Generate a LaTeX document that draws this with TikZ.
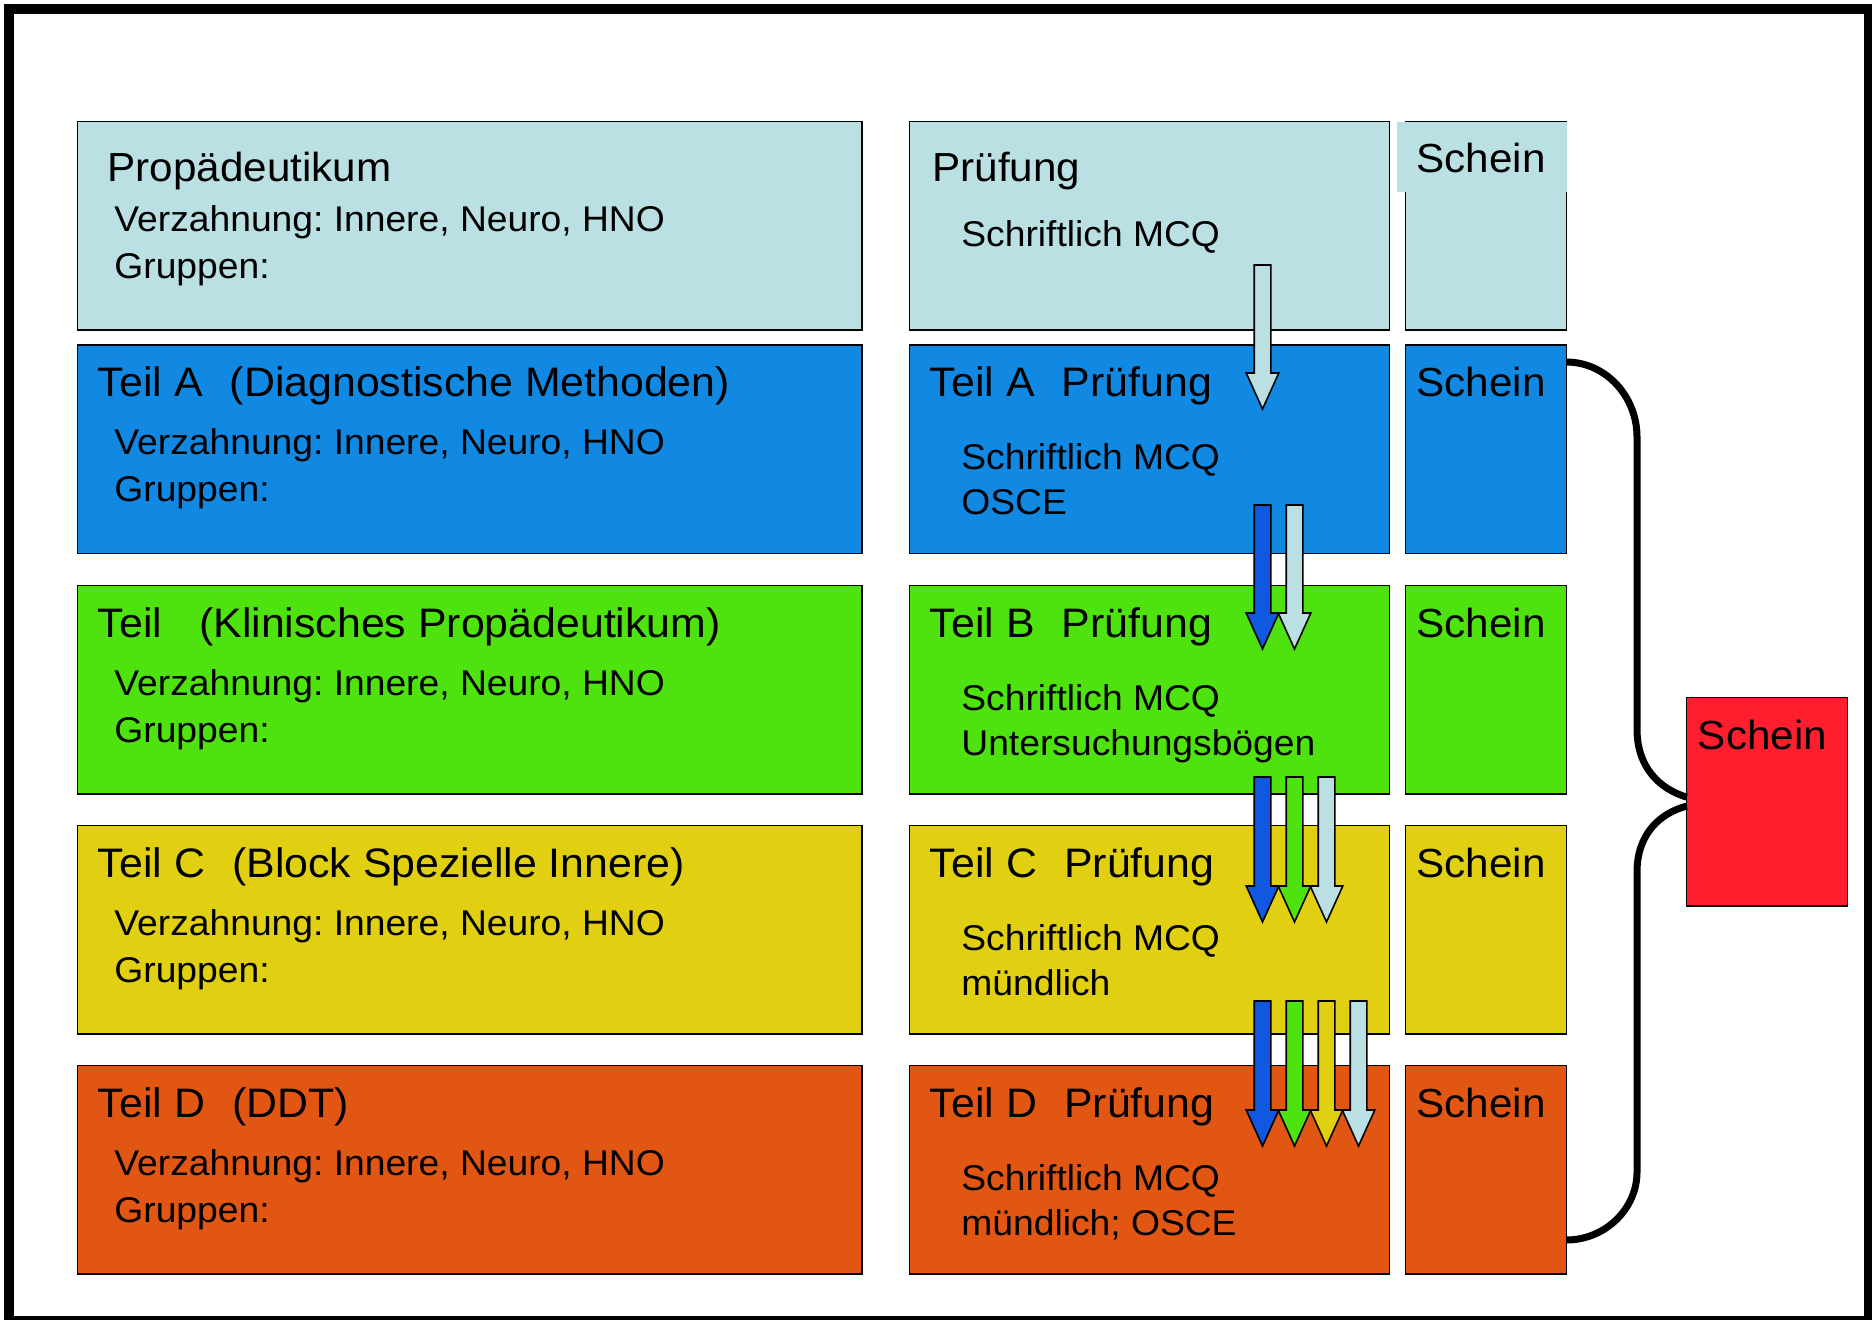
\documentclass[tikz,border=0pt]{standalone}
\usepackage{fontspec}
\setmainfont[FakeStretch=1.04]{Liberation Sans}
\usetikzlibrary{calc}
\frenchspacing
\definecolor{cProp}{RGB}{187,224,227}
\definecolor{cBlue}{RGB}{17,136,225}
\definecolor{cGreen}{RGB}{78,226,14}
\definecolor{cYellow}{RGB}{225,208,18}
\definecolor{cOrange}{RGB}{226,86,20}
\definecolor{cRed}{RGB}{255,30,46}
\definecolor{cDark}{RGB}{17,88,225}
\newcommand{\blockarr}[4]{%
  \draw[arrowline, fill=#4] (#1-8.3,#2) -- (#1+8.3,#2) -- (#1+8.3,#3) -- (#1+16.3,#3)
     -- (#1,#3+36) -- (#1-16.3,#3) -- (#1-8.3,#3) -- cycle;}
\newcommand{\gp}{\hspace{0.66em}}
\begin{document}
\begin{tikzpicture}[x=0.5pt,y=-0.5pt,
  box/.style={draw=black, line width=0.75pt, rectangle, inner sep=0pt, outer sep=0pt, anchor=north west},
  lbox/.style={box, minimum width=392.35pt, minimum height=104.25pt},
  mbox/.style={box, minimum width=240.2pt, minimum height=104.25pt},
  sbox/.style={box, minimum width=80.3pt, minimum height=104.25pt},
  ttl/.style={anchor=base west, inner sep=0pt, font=\fontsize{20.6pt}{24pt}\selectfont},
  sch/.style={anchor=base west, inner sep=0pt, font=\fontsize{20.3pt}{24pt}\selectfont},
  txt/.style={anchor=base west, inner sep=0pt, font=\fontsize{17.9pt}{21pt}\selectfont},
  arrowline/.style={draw=black, line width=0.8pt, line join=miter},
  brace/.style={draw=black, line width=3.5pt}]
\clip (0,0) rectangle (1872,1320);
\fill[white] (0,0) rectangle (1872,1320);
\draw[line width=5pt] (8.5,9.5) rectangle (1869,1321);

% ---- left column
\node[lbox, fill=cProp]   (L0) at (77.3,121.7) {};
\node[lbox, fill=cBlue]   (LA) at (77.3,345) {};
\node[lbox, fill=cGreen]  (LB) at (77.3,585.5) {};
\node[lbox, fill=cYellow] (LC) at (77.3,825.5) {};
\node[lbox, fill=cOrange] (LD) at (77.3,1065.5) {};

\node[sch] (L0t) at ($(L0.north west)+(29.7,60)$) {Propädeutikum};
\node[txt] (L0v) at ($(L0.north west)+(36.7,110)$) {Verzahnung: Innere, Neuro, HNO};
\node[txt] (L0g) at ($(L0.north west)+(36.7,157)$) {Gruppen:};

\node[ttl] (LAt) at ($(LA.north west)+(20.2,51.7)$) {Teil A\gp(Diagnostische Methoden)};
\node[txt] (LAv) at ($(LA.north west)+(36.7,110)$) {Verzahnung: Innere, Neuro, HNO};
\node[txt] (LAg) at ($(LA.north west)+(36.7,157)$) {Gruppen:};

\node[ttl] (LBt) at ($(LB.north west)+(20.2,51.7)$) {Teil\hspace{0.9em}(Klinisches Propädeutikum)};
\node[txt] (LBv) at ($(LB.north west)+(36.7,110)$) {Verzahnung: Innere, Neuro, HNO};
\node[txt] (LBg) at ($(LB.north west)+(36.7,157)$) {Gruppen:};

\node[ttl] (LCt) at ($(LC.north west)+(20.2,51.7)$) {Teil C\gp(Block Spezielle Innere)};
\node[txt] (LCv) at ($(LC.north west)+(36.7,110)$) {Verzahnung: Innere, Neuro, HNO};
\node[txt] (LCg) at ($(LC.north west)+(36.7,157)$) {Gruppen:};

\node[ttl] (LDt) at ($(LD.north west)+(20.2,51.7)$) {Teil D\gp(DDT)};
\node[txt] (LDv) at ($(LD.north west)+(36.7,110)$) {Verzahnung: Innere, Neuro, HNO};
\node[txt] (LDg) at ($(LD.north west)+(36.7,157)$) {Gruppen:};

% ---- middle column
\node[mbox, fill=cProp]   (M0) at (909.3,121.7) {};
\node[mbox, fill=cBlue]   (MA) at (909.3,345) {};
\node[mbox, fill=cGreen]  (MB) at (909.3,585.5) {};
\node[mbox, fill=cYellow] (MC) at (909.3,825.5) {};
\node[mbox, fill=cOrange] (MD) at (909.3,1065.5) {};

\node[sch] (M0t) at ($(M0.north west)+(22.7,60)$) {Prüfung};
\node[txt] (M0a) at ($(M0.north west)+(51.7,125)$) {Schriftlich MCQ};

\node[ttl] (MAt) at ($(MA.north west)+(20.2,51.7)$) {Teil A\gp Prüfung};
\node[txt] (MAa) at ($(MA.north west)+(51.7,125)$) {Schriftlich MCQ};
\node[txt] (MAb) at ($(MA.north west)+(51.7,170)$) {OSCE};

\node[ttl] (MBt) at ($(MB.north west)+(20.2,51.7)$) {Teil B\gp Prüfung};
\node[txt] (MBa) at ($(MB.north west)+(51.7,125)$) {Schriftlich MCQ};
\node[txt] (MBb) at ($(MB.north west)+(51.7,170)$) {Untersuchungsbögen};

\node[ttl] (MCt) at ($(MC.north west)+(20.2,51.7)$) {Teil C\gp Prüfung};
\node[txt] (MCa) at ($(MC.north west)+(51.7,125)$) {Schriftlich MCQ};
\node[txt] (MCb) at ($(MC.north west)+(51.7,170)$) {mündlich};

\node[ttl] (MDt) at ($(MD.north west)+(20.2,51.7)$) {Teil D\gp Prüfung};
\node[txt] (MDa) at ($(MD.north west)+(51.7,125)$) {Schriftlich MCQ};
\node[txt] (MDb) at ($(MD.north west)+(51.7,170)$) {mündlich; OSCE};

% ---- Schein column
\node[sbox, fill=cProp]   (S0) at (1405.7,121.7) {};
\node[sbox, fill=cBlue]   (SA) at (1405.7,345) {};
\node[sbox, fill=cGreen]  (SB) at (1405.7,585.5) {};
\node[sbox, fill=cYellow] (SC) at (1405.7,825.5) {};
\node[sbox, fill=cOrange] (SD) at (1405.7,1065.5) {};
\node[fill=cProp, inner sep=0pt, outer sep=0pt, anchor=north west,
      minimum width=85.3pt, minimum height=35pt] (S0lab) at (1396.7,121.9) {};

\node[sch] (S0t) at ($(S0.north west)+(10.3,51)$) {Schein};
\node[sch] (SAt) at ($(SA.north west)+(10.3,51.7)$) {Schein};
\node[sch] (SBt) at ($(SB.north west)+(10.3,51.7)$) {Schein};
\node[sch] (SCt) at ($(SC.north west)+(10.3,51.7)$) {Schein};
\node[sch] (SDt) at ($(SD.north west)+(10.3,51.7)$) {Schein};

% ---- final Schein
\node[box, fill=cRed, minimum width=80.3pt, minimum height=104.35pt] (R) at (1686.7,697.3) {};
\node[sch] (Rt) at ($(R.north west)+(10.8,51.7)$) {Schein};

% ---- arrows
\blockarr{1262.5}{265}{373}{cProp}
\blockarr{1262.5}{505}{613}{cDark}
\blockarr{1294.5}{505}{613}{cProp}
\blockarr{1262.5}{777}{886}{cDark}
\blockarr{1294.5}{777}{886}{cGreen}
\blockarr{1326.5}{777}{886}{cProp}
\blockarr{1262.5}{1001}{1110}{cDark}
\blockarr{1294.5}{1001}{1110}{cGreen}
\blockarr{1326.5}{1001}{1110}{cYellow}
\blockarr{1358.5}{1001}{1110}{cProp}

% ---- brace
\coordinate (b1) at ($(SA.north east)+(0,17)$);
\coordinate (b2) at ($(R.west)+(0,-4.5)$);
\coordinate (b3) at ($(R.west)+(0,4.5)$);
\coordinate (b4) at ($(SD.north east)+(0,174.5)$);
\draw[brace] (b1) .. controls +(39,0) and (1637,396) .. (1637,437) -- (1637,729)
   .. controls (1637,768) and (1660,789) .. (b2);
\draw[brace] (b3) .. controls (1660,813) and (1637,834) .. (1637,872) -- (1637,1172)
   .. controls (1637,1209) and (1605,1240) .. (b4);
\end{tikzpicture}
\end{document}
